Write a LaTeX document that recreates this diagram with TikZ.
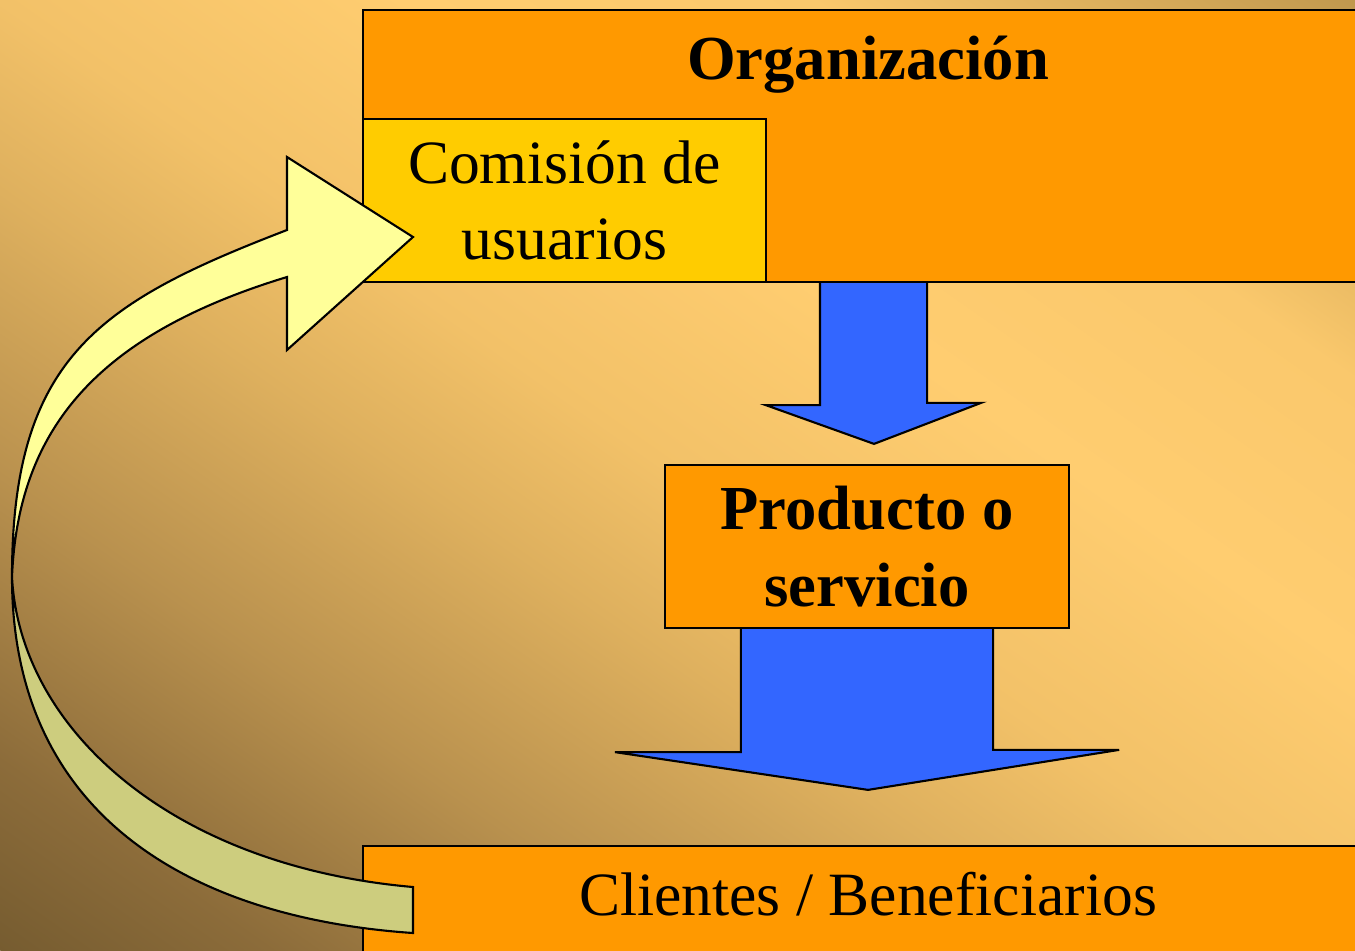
\documentclass[tikz,border=0pt]{standalone}
\usepackage{fontspec}
\setmainfont{Liberation Serif}
\usetikzlibrary{positioning}

\definecolor{orgorange}{HTML}{FF9900}
\definecolor{comyellow}{HTML}{FFCC00}
\definecolor{flowblue}{HTML}{3366FF}
\definecolor{loopfront}{HTML}{FFFF99}
\definecolor{loopback}{RGB}{205,205,126}
\definecolor{bgdark}{RGB}{118,92,48}
\definecolor{bgbrown}{RGB}{140,108,58}
\definecolor{bgtan}{RGB}{185,145,78}
\definecolor{bgmid}{RGB}{222,176,94}
\definecolor{bgpale}{RGB}{242,193,104}
\definecolor{bglight}{RGB}{255,205,112}
\definecolor{bgsoft}{RGB}{250,200,108}
\definecolor{bgtop}{RGB}{192,152,78}

\pgfdeclarehorizontalshading{bgfade}{100bp}{color(0bp)=(bgdark); color(25bp)=(bgdark);
  color(30bp)=(bgbrown); color(37.5bp)=(bgtan); color(45bp)=(bgmid); color(50bp)=(bgpale);
  color(57.5bp)=(bglight); color(65bp)=(bgsoft); color(75bp)=(bgtop); color(100bp)=(bgtop)}

\tikzset{
  box/.style={draw=black, line width=0.6pt, rectangle, inner sep=0pt},
  plaintext/.style={font=\fontsize{17.5}{21.8}\selectfont},
  boldtext/.style={font=\fontsize{17.8}{21.8}\selectfont\bfseries},
  flow/.style={draw=black, line width=0.6pt, fill=flowblue, line join=miter},
  loop/.style={draw=black, line width=0.6pt, line join=miter}
}

\begin{document}
\begin{tikzpicture}[x=0.01cm, y=0.01cm]

  \useasboundingbox (0,0) rectangle (1355,950);
  \clip (0,0) rectangle (1355,950);

  % background
  \begin{scope}[transform canvas={rotate around={55:(677.5,475)}}]
    \shade[shading=bgfade] (-100.5,-475) rectangle (1455.5,1425);
  \end{scope}

  % boxes
  \node[box, boldtext, fill=orgorange, minimum width=10.1cm, text height=0.69cm,
        text depth=2.03cm, anchor=base] (org) at (868,871) {Organización};
  \node[box, plaintext, fill=comyellow, minimum width=4.03cm, minimum height=1.63cm,
        align=center] (com) at (564.5,749.5) {Comisión de\\usuarios};
  \node[box, boldtext, fill=orgorange, minimum width=4.04cm, minimum height=1.63cm,
        align=center] (prod) at (867,403.5) {Producto o\\servicio};
  \node[box, plaintext, fill=orgorange, minimum width=10.1cm, text height=0.69cm,
        text depth=0.55cm, anchor=base] (cli) at (868,35) {Clientes / Beneficiarios};

  % block arrows
  \filldraw[flow] ([xshift=-0.48cm]org.south) -- ++(0,-122) -- ++(-54,0)
    -- ([xshift=0.07cm,yshift=0.2cm]prod.north)
    -- ([xshift=1.14cm,yshift=0.61cm]prod.north) -- ++(-54,0) coordinate (a1)
    -- (a1 |- org.south);
  \filldraw[flow] ([xshift=-1.26cm]prod.south) -- ++(0,-123) -- ++(-126,0)
    -- ([yshift=0.55cm]cli.north)
    -- ([xshift=2.51cm,yshift=0.95cm]cli.north) -- ++(-126,0) coordinate (a2)
    -- (a2 |- prod.south);

  % feedback loop, back side
  \filldraw[loop, fill=loopback] (12,373) .. controls (12,133) and (193,32) .. (413,17)
    -- (413,63) .. controls (173,84) and (20,220) .. (12,373) -- cycle;
  % feedback loop, front side with head
  \filldraw[loop, fill=loopfront] (12,373) .. controls (12,593) and (100,648) .. (287,720)
    -- (287,793) -- (413,713) -- (287,600)
    -- (287,673) .. controls (96,615) and (18,520) .. (12,373) -- cycle;

\end{tikzpicture}
\end{document}
